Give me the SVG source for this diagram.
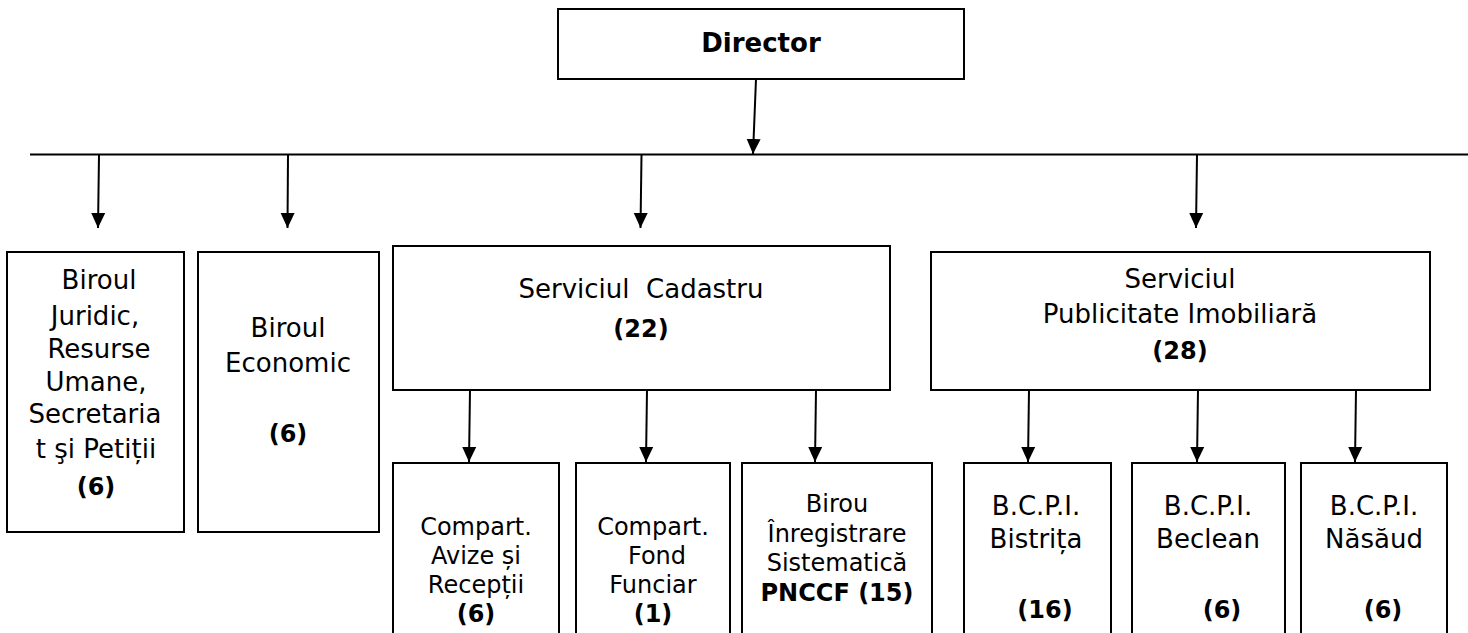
<svg xmlns="http://www.w3.org/2000/svg" width="1468" height="633" viewBox="0 0 1468 633">
<style>
.box{fill:#fff;stroke:#000;stroke-width:2}
.t{font-family:"DejaVu Sans","Liberation Sans",sans-serif;font-size:26px;fill:#000;text-anchor:middle}
.s{font-size:24px}
.b{font-weight:bold}
.c{stroke:#000;stroke-width:2;fill:none;marker-end:url(#ah)}
</style>
<defs>
<marker id="ah" markerUnits="userSpaceOnUse" markerWidth="16" markerHeight="18" refX="15" refY="7" orient="auto" viewBox="0 0 16 14">
<path d="M0,0 L15,7 L0,14 Z" fill="#000"/>
</marker>
</defs>
<rect width="1468" height="633" fill="#fff"/>
<g id="connectors">
<line x1="30" y1="154.5" x2="1468" y2="154.5" stroke="#000" stroke-width="2"/>
<line class="c" x1="756" y1="79" x2="753" y2="154"/>
<line class="c" x1="99" y1="155" x2="98" y2="228"/>
<line class="c" x1="288" y1="155" x2="287.5" y2="228"/>
<line class="c" x1="641.5" y1="155" x2="640.5" y2="228"/>
<line class="c" x1="1197" y1="155" x2="1196" y2="228"/>
<line class="c" x1="470" y1="390" x2="469" y2="462"/>
<line class="c" x1="647" y1="390" x2="646" y2="462"/>
<line class="c" x1="816" y1="390" x2="815" y2="462"/>
<line class="c" x1="1029" y1="390" x2="1028" y2="462"/>
<line class="c" x1="1198" y1="390" x2="1197" y2="462"/>
<line class="c" x1="1356" y1="390" x2="1355" y2="462"/>
</g>
<g id="director">
<rect class="box" x="558" y="9" width="406" height="70"/>
<text class="t b" x="761" y="52" font-size="27">Director</text>
</g>
<g id="biroul-juridic">
<rect class="box" x="7" y="252" width="177" height="280"/>
<text class="t"><tspan x="99" y="289">Biroul</tspan><tspan x="95" y="325">Juridic,</tspan><tspan x="99" y="358">Resurse</tspan><tspan x="96" y="391">Umane,</tspan><tspan x="95" y="423">Secretaria</tspan><tspan x="96" y="458">t şi Petiții</tspan><tspan x="96" y="495" class="b" font-weight="bold" font-size="24">(6)</tspan></text>
</g>
<g id="biroul-economic">
<rect class="box" x="198" y="252" width="181" height="280"/>
<text class="t"><tspan x="288" y="337">Biroul</tspan><tspan x="288" y="372">Economic</tspan></text>
<text class="t b s" x="288" y="442">(6)</text>
</g>
<g id="serviciul-cadastru">
<rect class="box" x="393" y="246" width="497" height="144"/>
<text class="t" x="641" y="298" xml:space="preserve">Serviciul  Cadastru</text>
<text class="t b s" x="641" y="337">(22)</text>
</g>
<g id="serviciul-publicitate">
<rect class="box" x="931" y="252" width="499" height="138"/>
<text class="t"><tspan x="1180" y="288">Serviciul</tspan><tspan x="1180" y="323">Publicitate Imobiliară</tspan></text>
<text class="t b s" x="1180" y="359">(28)</text>
</g>
<g id="compart-avize">
<rect class="box" x="393" y="463" width="166" height="185"/>
<text class="t s"><tspan x="476" y="535">Compart.</tspan><tspan x="476" y="564">Avize și</tspan><tspan x="476" y="593">Recepții</tspan></text>
<text class="t s b" x="476" y="622">(6)</text>
</g>
<g id="compart-fond">
<rect class="box" x="576" y="463" width="154" height="185"/>
<text class="t s"><tspan x="653" y="535">Compart.</tspan><tspan x="657" y="564">Fond</tspan><tspan x="653" y="593">Funciar</tspan></text>
<text class="t s b" x="653" y="622">(1)</text>
</g>
<g id="birou-inregistrare">
<rect class="box" x="742" y="463" width="190" height="185"/>
<text class="t s"><tspan x="837" y="512">Birou</tspan><tspan x="837" y="542">Înregistrare</tspan><tspan x="837" y="571">Sistematică</tspan></text>
<text class="t s b" x="837" y="601">PNCCF (15)</text>
</g>
<g id="bcpi-bistrita">
<rect class="box" x="964" y="463" width="147" height="185"/>
<text class="t"><tspan x="1036" y="515">B.C.P.I.</tspan><tspan x="1036" y="548">Bistrița</tspan></text>
<text class="t b s" x="1045" y="618">(16)</text>
</g>
<g id="bcpi-beclean">
<rect class="box" x="1132" y="463" width="153" height="185"/>
<text class="t"><tspan x="1208" y="515">B.C.P.I.</tspan><tspan x="1208" y="548">Beclean</tspan></text>
<text class="t b s" x="1222" y="618">(6)</text>
</g>
<g id="bcpi-nasaud">
<rect class="box" x="1301" y="463" width="146" height="185"/>
<text class="t"><tspan x="1374" y="515">B.C.P.I.</tspan><tspan x="1374" y="548">Năsăud</tspan></text>
<text class="t b s" x="1383" y="618">(6)</text>
</g>
</svg>
